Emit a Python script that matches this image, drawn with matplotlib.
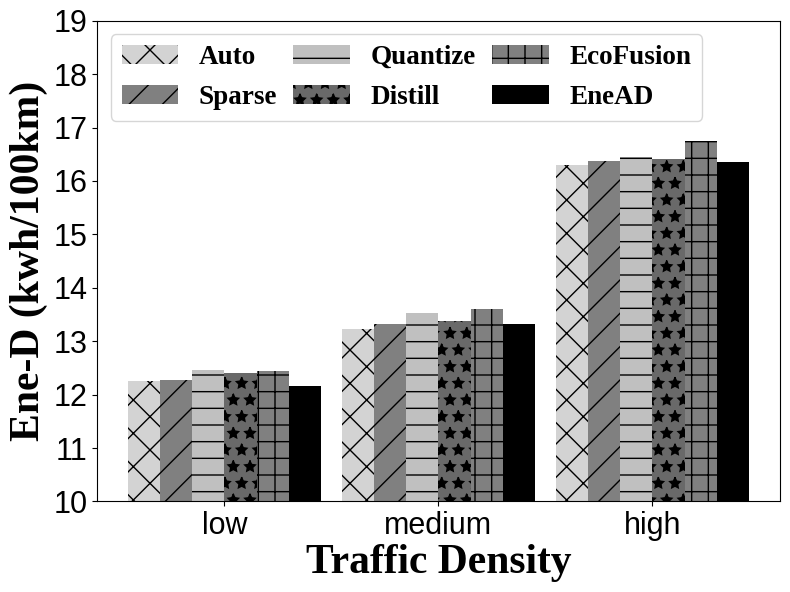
import numpy as np
import matplotlib
matplotlib.use("Agg")
import matplotlib.pyplot as plt

# data
densities = ["low", "medium", "high"]
methods = ["Auto", "Sparse", "Quantize", "Distill", "EcoFusion", "EneAD"]
auto = [12.25, 13.22, 16.29]
sparse = [12.27, 13.32, 16.37]
quantize = [12.46, 13.53, 16.44]
distill = [12.41, 13.37, 16.41]
ecofusion = [12.44, 13.60, 16.75]
enead = [12.16, 13.32, 16.36]
yticks = [10, 11, 12, 13, 14, 15, 16, 17, 18, 19]

values = [auto, sparse, quantize, distill, ecofusion, enead]
colors = ["#d3d3d3", "#808080", "#c0c0c0", "#696969", "#808080", "#000000"]
hatches = ["x", "/", "-", "*", "+", ""]

fig, ax = plt.subplots(figsize=(7.9, 5.92), dpi=100)
x = np.arange(len(densities))
w = 0.15
for i in range(len(methods)):
    ax.bar(x + (i - 2.5) * w, values[i], w, bottom=0, color=colors[i],
           hatch=hatches[i], edgecolor="black", linewidth=0, label=methods[i])

ax.set_ylim(10, 19)
ax.set_yticks(yticks)
ax.set_xticks(x)
ax.set_xticklabels(densities)
ax.tick_params(labelsize=22)
for lab in ax.get_xticklabels() + ax.get_yticklabels():
    lab.set_family("Liberation Sans")

ax.set_xlabel("Traffic Density", fontsize=30, fontweight="bold", family="Liberation Serif", labelpad=2)
ax.set_ylabel("Ene-D (kwh/100km)", fontsize=30, fontweight="bold", family="Liberation Serif", labelpad=4)

ax.legend(ncol=3, loc="upper left", prop={"family": "Liberation Serif", "weight": "bold", "size": 19.5},
          handlelength=2.1, handletextpad=0.75, columnspacing=0.6, labelspacing=0.55,
          borderaxespad=0.5)

plt.subplots_adjust(left=0.123, right=0.987, top=0.965, bottom=0.153)
fig.savefig("out.png")
